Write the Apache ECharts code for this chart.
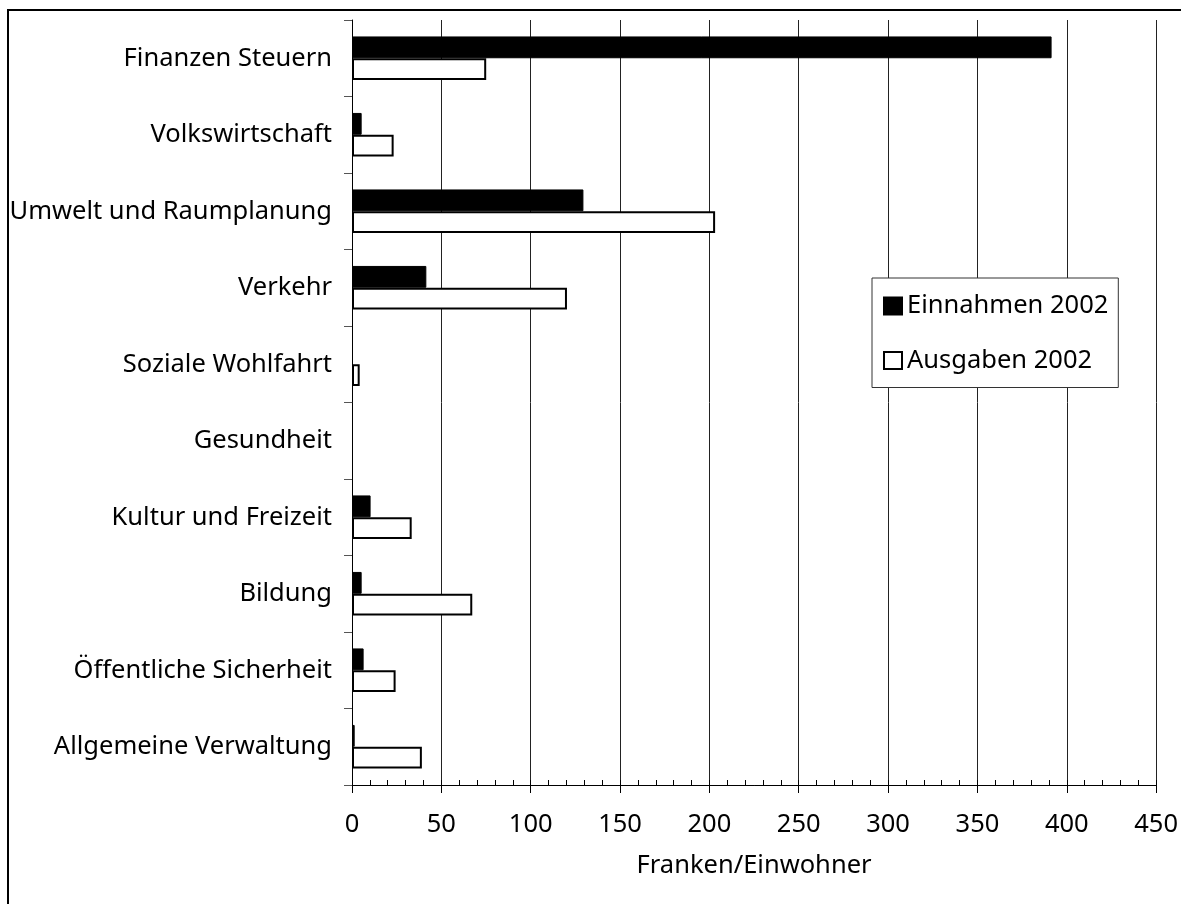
<!DOCTYPE html>
<html>
<head>
<meta charset="utf-8">
<script src="https://cdn.jsdelivr.net/npm/echarts@6/dist/echarts.min.js"></script>
<style>
html,body{margin:0;padding:0;background:#fff;}
#chart{width:1181px;height:904px;}
</style>
</head>
<body>
<div id="chart"></div>
<script>
// Categories bottom -> top
const categories = ["Allgemeine Verwaltung","Öffentliche Sicherheit","Bildung","Kultur und Freizeit","Gesundheit","Soziale Wohlfahrt","Verkehr","Umwelt und Raumplanung","Volkswirtschaft","Finanzen Steuern"];
const einnahmen2002 = [1.5, 6.5, 5.4, 10.4, 0, 0, 41.6, 129.5, 5.4, 391.5];
const ausgaben2002 = [39.1, 24.4, 67.3, 33.4, 0, 4.3, 120.3, 203.2, 23.3, 75.1];
const seriesNames = ["Einnahmen 2002","Ausgaben 2002"];
const xAxisName = "Franken/Einwohner";

const FONT = "Noto Sans";
const FS = 25.5;
const hideZero = v => (v === 0 ? null : v);
const chart = echarts.init(document.getElementById('chart'), null, {renderer:'canvas'});
chart.setOption({
  animation:false,
  backgroundColor:'#fff',
  textStyle:{fontFamily:FONT},
  graphic:[{type:'rect', shape:{x:8,y:10,width:1300,height:1000}, style:{fill:'none',stroke:'#000',lineWidth:2}}],
  grid:{left:352,right:23,top:20,bottom:119,containLabel:false},
  legend:{
    orient:'vertical', left:872, top:278,
    padding:[15,10,14,11], itemGap:28.5,
    backgroundColor:'#fff', borderColor:'#333', borderWidth:1,
    icon:'rect', itemWidth:18, itemHeight:17,
    textStyle:{fontFamily:FONT,fontSize:FS,color:'#000'},
    data:[seriesNames[0],seriesNames[1]]
  },
  xAxis:[{
    type:'value', min:0, max:450, interval:50,
    name:xAxisName, nameLocation:'middle', nameGap:68,
    nameTextStyle:{fontFamily:FONT,fontSize:FS,color:'#000'},
    axisLine:{show:true,lineStyle:{color:'#000',width:1}},
    axisTick:{show:true,inside:false,length:8,lineStyle:{color:'#000'}},
    axisLabel:{fontFamily:FONT,fontSize:FS,color:'#000',margin:27},
    splitLine:{show:true,lineStyle:{color:'#222',width:1}}
  },{
    type:'value', min:0, max:450, interval:10, position:'bottom',
    axisLine:{show:false},
    axisTick:{show:true,inside:true,length:5,lineStyle:{color:'#000'}},
    axisLabel:{show:false}, splitLine:{show:false}
  }],
  yAxis:{
    type:'category', data:categories,
    axisLine:{show:true,lineStyle:{color:'#000',width:1}},
    axisTick:{show:true,length:8,lineStyle:{color:'#555'}},
    axisLabel:{fontFamily:FONT,fontSize:FS,color:'#000',margin:20},
    splitLine:{show:false}
  },
  series:[
    {name:seriesNames[0], type:'bar', data:einnahmen2002.map(hideZero), barGap:'0%', barCategoryGap:'43%',
     itemStyle:{color:'#000',borderColor:'#000',borderWidth:1}},
    {name:seriesNames[1], type:'bar', data:ausgaben2002.map(hideZero), barGap:'0%', barCategoryGap:'43%',
     itemStyle:{color:'#fff',borderColor:'#000',borderWidth:2}}
  ]
});
</script>
</body>
</html>
